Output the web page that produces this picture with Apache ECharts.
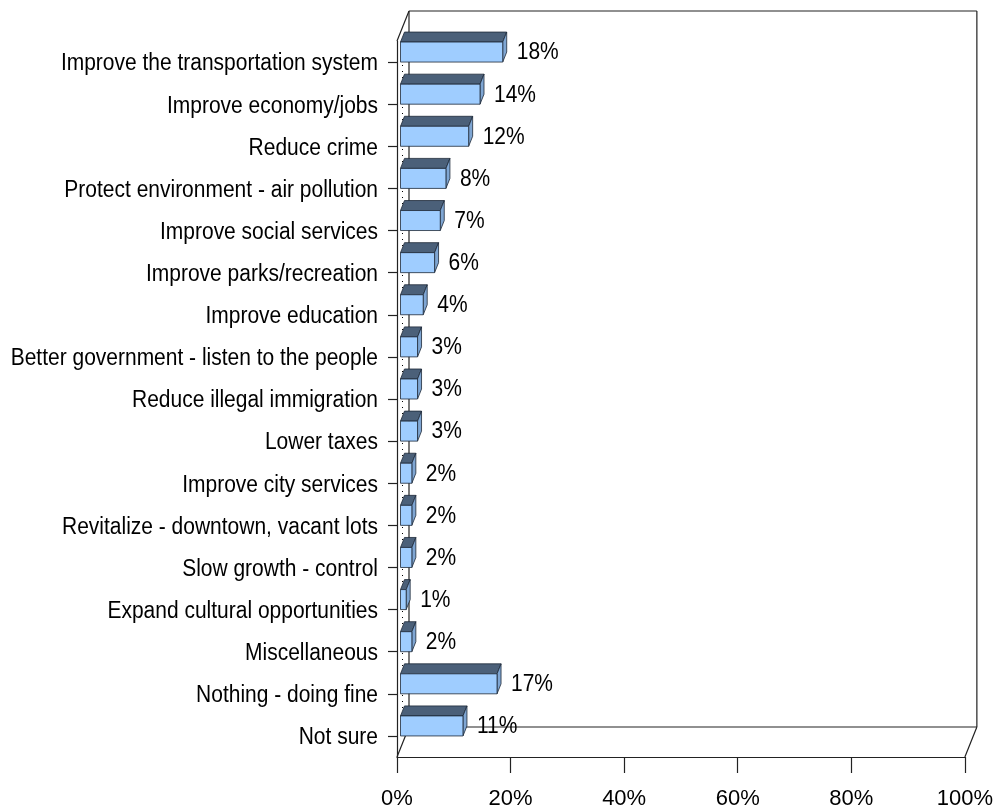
<!DOCTYPE html>
<html>
<head>
<meta charset="utf-8">
<script src="https://cdn.jsdelivr.net/npm/echarts@6/dist/echarts.min.js"></script>
<style>
  html, body { margin: 0; padding: 0; background: #fff; }
  #chart { width: 996px; height: 811px; }
</style>
</head>
<body>
<div id="chart"></div>
<script>
// Survey answers: what would most improve the city
const categories = [
  'Improve the transportation system',
  'Improve economy/jobs',
  'Reduce crime',
  'Protect environment - air pollution',
  'Improve social services',
  'Improve parks/recreation',
  'Improve education',
  'Better government - listen to the people',
  'Reduce illegal immigration',
  'Lower taxes',
  'Improve city services',
  'Revitalize - downtown, vacant lots',
  'Slow growth - control',
  'Expand cultural opportunities',
  'Miscellaneous',
  'Nothing - doing fine',
  'Not sure'
];
const percents = [18, 14, 12, 8, 7, 6, 4, 3, 3, 3, 2, 2, 2, 1, 2, 17, 11];
const xTicks = [0, 20, 40, 60, 80, 100];

const FONT = "'Liberation Sans', Arial, sans-serif";
const TEXT_FONT = '23px ' + FONT;
const TEXT_SQUEEZE = 0.912;   // condensed lettering
// pseudo-3D depth of the walls and the bars
const WALL_DX = 12, WALL_DY = -30;
const BAR_DX = 4, BAR_DY = -10, BAR_SHIFT = 3.5;

const chart = echarts.init(document.getElementById('chart'));

function squeezedText(x, y, text, align) {
  return {
    type: 'text',
    x: x, y: y,
    scaleX: TEXT_SQUEEZE,
    style: {
      x: 0, y: 0,
      text: text,
      fill: '#000',
      font: TEXT_FONT,
      verticalAlign: 'middle',
      align: align
    }
  };
}

function renderFrame(params, api) {
  const cs = params.coordSys;
  const l = cs.x, t = cs.y, r = cs.x + cs.width, b = cs.y + cs.height;
  const line = (x1, y1, x2, y2, extra) => ({
    type: 'line',
    shape: { x1, y1, x2, y2 },
    style: Object.assign({ stroke: '#222', lineWidth: 1.2 }, extra || {})
  });
  return {
    type: 'group',
    children: [
      // back wall
      line(l + WALL_DX, t + WALL_DY, r + WALL_DX, t + WALL_DY),
      line(r + WALL_DX, t + WALL_DY, r + WALL_DX, b + WALL_DY),
      line(l + WALL_DX, b + WALL_DY, r + WALL_DX, b + WALL_DY),
      line(l + WALL_DX, t + WALL_DY, l + WALL_DX, b + WALL_DY),
      // side edges
      line(l, t, l + WALL_DX, t + WALL_DY),
      line(l, b, l + WALL_DX, b + WALL_DY),
      line(r, b, r + WALL_DX, b + WALL_DY),
      // dotted gridline behind the bars
      line(l + 5.5, t, l + 5.5, b + WALL_DY, { lineDash: [1, 5], lineWidth: 1, stroke: '#000' })
    ]
  };
}

function renderCategoryLabel(params, api) {
  const idx = api.value(1);
  const p = api.coord([0, idx]);
  return squeezedText(p[0] - 19, p[1] + 2, categories[idx], 'right');
}

function renderBar(params, api) {
  const v = api.value(0);
  const idx = api.value(1);
  const base = api.coord([0, idx]);
  const end = api.coord([v, idx]);
  const band = api.size([0, 1])[1];
  const h = band * 0.475;
  const x0 = base[0] + BAR_SHIFT;
  const x1 = end[0] + BAR_SHIFT;
  const bottom = base[1];
  const top = bottom - h;
  const edge = { stroke: '#1e2a38', lineWidth: 0.8 };
  return {
    type: 'group',
    children: [
      {
        type: 'polygon',
        shape: { points: [[x0, top], [x1, top], [x1 + BAR_DX, top + BAR_DY], [x0 + BAR_DX, top + BAR_DY]] },
        style: Object.assign({ fill: '#4b6079' }, edge)
      },
      {
        type: 'polygon',
        shape: { points: [[x1, top], [x1, bottom], [x1 + BAR_DX, bottom + BAR_DY], [x1 + BAR_DX, top + BAR_DY]] },
        style: Object.assign({ fill: '#7fa6d3' }, edge)
      },
      {
        type: 'rect',
        shape: { x: x0, y: top, width: x1 - x0, height: h },
        style: Object.assign({ fill: '#9fcdff' }, edge)
      },
      squeezedText(x1 + BAR_DX + 10, bottom - h / 2 + 1, v + '%', 'left')
    ]
  };
}

chart.setOption({
  animation: false,
  backgroundColor: '#fff',
  grid: { left: 397, right: 29, top: 41, bottom: 54, containLabel: false },
  xAxis: {
    type: 'value',
    min: xTicks[0],
    max: xTicks[xTicks.length - 1],
    interval: xTicks[1] - xTicks[0],
    axisLine: { show: true, lineStyle: { color: '#222', width: 1.2 } },
    axisTick: { show: true, length: 16, lineStyle: { color: '#222', width: 1.2 } },
    splitLine: { show: false },
    axisLabel: {
      formatter: '{value}%',
      margin: 31,
      fontSize: 22,
      fontFamily: FONT,
      color: '#000'
    }
  },
  yAxis: {
    type: 'category',
    inverse: true,
    data: categories,
    axisLine: { show: true, lineStyle: { color: '#222', width: 1.2 } },
    axisTick: { show: true, alignWithLabel: true, length: 9, lineStyle: { color: '#222', width: 1.2 } },
    axisLabel: { show: false }
  },
  series: [
    {
      type: 'custom',
      z: 1,
      silent: true,
      renderItem: renderFrame,
      encode: { x: 0, y: 1 },
      data: [[0, 0]]
    },
    {
      type: 'custom',
      z: 1,
      silent: true,
      renderItem: renderCategoryLabel,
      encode: { x: 0, y: 1 },
      data: categories.map((c, i) => [0, i])
    },
    {
      type: 'custom',
      z: 2,
      renderItem: renderBar,
      encode: { x: 0, y: 1 },
      data: percents.map((v, i) => [v, i])
    }
  ]
});
</script>
</body>
</html>
